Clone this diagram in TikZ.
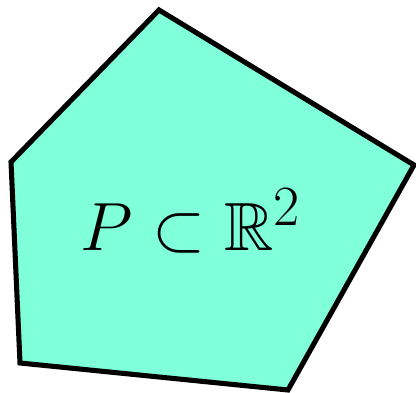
\documentclass[tikz,border=0pt]{standalone}
\usepackage{amssymb}
\usepackage{xcolor}
\usepackage{tikz}
\definecolor{polyfill}{RGB}{127,255,218}

\begin{document}
\begin{tikzpicture}[
    x=0.025cm, y=-0.025cm,
    poly/.style={draw=black, fill=polyfill, line width=3.6pt, line join=miter},
    setlabel/.style={font=\fontsize{24.88}{30}\selectfont, scale=1.95, transform shape}
]
\useasboundingbox (0,0) rectangle (416,393);

% Corners of the polygon
\coordinate (top) at (159,10);
\coordinate (right) at (414,165);
\coordinate (bottom) at (288,390);
\coordinate (lowleft) at (20,363);
\coordinate (left) at (11,162);

% Polygon
\draw[poly] (top) -- (right) -- (bottom) -- (lowleft) -- (left) -- cycle;

% Label
\node[setlabel] (label) at (191,221) {$P \subset \mathbb{R}^2$};
\end{tikzpicture}
\end{document}
